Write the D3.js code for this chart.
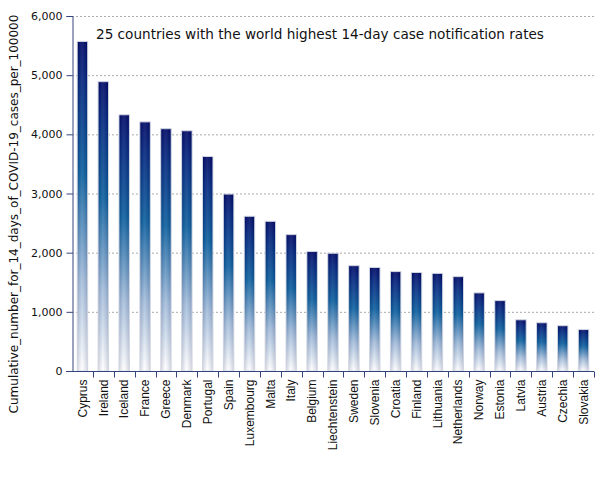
<!DOCTYPE html>
<html>
<head>
<meta charset="utf-8">
<script src="https://cdn.jsdelivr.net/npm/d3@7"></script>
<style>
html,body{margin:0;padding:0;background:#fff;}
svg{display:block;}
</style>
</head>
<body>
<svg id="chart" width="605" height="480"></svg>
<script>
const countries = ["Cyprus","Ireland","Iceland","France","Greece","Denmark","Portugal","Spain","Luxembourg","Malta","Italy","Belgium","Liechtenstein","Sweden","Slovenia","Croatia","Finland","Lithuania","Netherlands","Norway","Estonia","Latvia","Austria","Czechia","Slovakia"];
const values = [5570,4890,4330,4210,4095,4060,3625,2990,2615,2530,2305,2020,1990,1780,1750,1680,1665,1650,1595,1320,1190,865,815,765,700];
const yTicks = [0,1000,2000,3000,4000,5000,6000];
const titleText = "25 countries with the world highest 14-day case notification rates";
const yLabel = "Cumulative_number_for_14_days_of_COVID-19_cases_per_100000";

const svg = d3.select("#chart");
const m = {left:72, right:11, top:16, bottom:109};
const W = 605, H = 480;
const x = d3.scaleBand().domain(countries).range([m.left, W - m.right]).paddingInner(0.5).paddingOuter(0.25);
const y = d3.scaleLinear().domain([0, 6000]).range([H - m.bottom, m.top]);

const defs = svg.append("defs");
const g = defs.append("linearGradient").attr("id","barGrad").attr("x1",0).attr("y1",0).attr("x2",0).attr("y2",1);
g.append("stop").attr("offset","0%").attr("stop-color","#000a66");
g.append("stop").attr("offset","12%").attr("stop-color","#02257d");
g.append("stop").attr("offset","40%").attr("stop-color","#0b5f9e");
g.append("stop").attr("offset","72%").attr("stop-color","#a3bddb");
g.append("stop").attr("offset","100%").attr("stop-color","#ffffff");
const gh = defs.append("linearGradient").attr("id","barShine").attr("x1",0).attr("y1",0).attr("x2",1).attr("y2",0);
gh.append("stop").attr("offset","0%").attr("stop-color","#000033").attr("stop-opacity",0.15);
gh.append("stop").attr("offset","45%").attr("stop-color","#ffffff").attr("stop-opacity",0.1);
gh.append("stop").attr("offset","100%").attr("stop-color","#000033").attr("stop-opacity",0.15);

// gridlines
svg.append("g").selectAll("line").data(yTicks.filter(d=>d>0)).join("line")
  .attr("x1", m.left).attr("x2", W - m.right)
  .attr("y1", d=>y(d)+0.5).attr("y2", d=>y(d)+0.5)
  .attr("stroke","#aaaaaa").attr("stroke-width",1).attr("stroke-dasharray","2,2");

// bars
const bars = svg.append("g");
bars.selectAll("rect.b").data(countries).join("rect").attr("class","b")
  .attr("x", d=>x(d)).attr("width", x.bandwidth())
  .attr("y", (d,i)=>y(values[i])).attr("height", (d,i)=>y(0)-y(values[i]))
  .attr("fill","url(#barGrad)").attr("stroke","#d0d6e2").attr("stroke-width",1);
bars.selectAll("rect.s").data(countries).join("rect").attr("class","s")
  .attr("x", d=>x(d)+0.5).attr("width", x.bandwidth()-1)
  .attr("y", (d,i)=>y(values[i])+0.5).attr("height", (d,i)=>y(0)-y(values[i])-1)
  .attr("fill","url(#barShine)");

const axisColor = "#35457f";
// y axis
const yAxis = svg.append("g").attr("transform",`translate(${m.left+0.5},0)`)
  .call(d3.axisLeft(y).tickValues(yTicks).tickFormat(d3.format(",")).tickSize(6).tickPadding(4));
yAxis.select(".domain").attr("stroke",axisColor);
yAxis.selectAll(".tick line").attr("stroke",axisColor);
yAxis.selectAll("text").attr("font-family","DejaVu Sans, sans-serif").attr("font-size",11).attr("fill","#111");

// x axis
const xAxis = svg.append("g").attr("transform",`translate(0,${y(0)+0.5})`)
  .call(d3.axisBottom(x).tickSize(0).tickPadding(0));
xAxis.select(".domain").attr("stroke",axisColor).attr("d",`M${m.left-6},0H${W-m.right}`);
xAxis.selectAll(".tick text")
  .attr("font-family","Liberation Sans, Arial, sans-serif").attr("font-size",12).attr("fill","#111")
  .attr("transform","rotate(-90)").attr("text-anchor","end")
  .attr("x",-8).attr("y",0).attr("dy","0.35em");
// boundary ticks between bands
xAxis.append("g").selectAll("line").data(countries).join("line")
  .attr("x1",(d,i)=>Math.round(m.left + (i+1)*(W-m.right-m.left)/countries.length)+0.5)
  .attr("x2",(d,i)=>Math.round(m.left + (i+1)*(W-m.right-m.left)/countries.length)+0.5)
  .attr("y1",0).attr("y2",6).attr("stroke",axisColor);

// y label
svg.append("text").attr("transform",`translate(18,${214}) rotate(-90)`)
  .attr("text-anchor","middle").attr("font-family","DejaVu Sans, sans-serif").attr("font-size",12).attr("fill","#111")
  .text(yLabel);

// title
svg.append("text").attr("x",96).attr("y",39)
  .attr("font-family","DejaVu Sans, sans-serif").attr("font-size",13.6).attr("fill","#111")
  .text(titleText);
</script>
</body>
</html>
